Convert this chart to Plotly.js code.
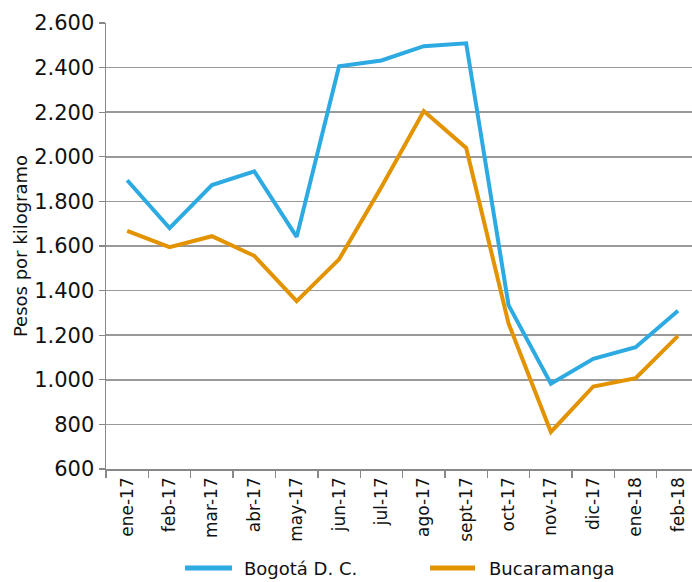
<!DOCTYPE html>
<html>
<head>
<meta charset="utf-8">
<script src="https://cdn.plot.ly/plotly-3.0.1.min.js"></script>
<style>html,body{margin:0;padding:0;background:#fff;}#chart{width:692px;height:582px;}</style>
</head>
<body>
<div id="chart"></div>
<script>
const months = ["ene-17","feb-17","mar-17","abr-17","may-17","jun-17","jul-17","ago-17","sept-17","oct-17","nov-17","dic-17","ene-18","feb-18"];
const bogota = [1895, 1680, 1873, 1935, 1641, 2406, 2432, 2496, 2509, 1335, 982, 1094, 1146, 1310];
const bucaramanga = [1668, 1595, 1644, 1556, 1353, 1540, 1865, 2205, 2040, 1253, 766, 970, 1007, 1197];
const yTicks = [600, 800, 1000, 1200, 1400, 1600, 1800, 2000, 2200, 2400, 2600];
const seriesNames = ["Bogotá D. C.", "Bucaramanga"];
const seriesColors = ["#2DAAE1", "#E39300"];

const font = "'DejaVu Sans', 'Noto Sans', sans-serif";
const traces = [
  {x: months, y: bogota, name: seriesNames[0], type: "scatter", mode: "lines",
   line: {color: seriesColors[0], width: 4}},
  {x: months, y: bucaramanga, name: seriesNames[1], type: "scatter", mode: "lines",
   line: {color: seriesColors[1], width: 4}}
];

// manual legend (paper coords)
const legY = -0.222;
const legItems = [
  {x0: 0.1348, x1: 0.215, tx: 0.2321},
  {x0: 0.5529, x1: 0.6297, tx: 0.6502}
];
const shapes = legItems.map((it, i) => ({
  type: "line", xref: "paper", yref: "paper", x0: it.x0, x1: it.x1, y0: legY, y1: legY,
  line: {color: seriesColors[i], width: 5}
}));
const annotations = legItems.map((it, i) => ({
  xref: "paper", yref: "paper", x: it.tx, y: legY, xanchor: "left", yanchor: "middle",
  text: seriesNames[i], showarrow: false, font: {size: 18, color: "#111"}
}));

const layout = {
  width: 692, height: 582,
  margin: {l: 106, r: 0, t: 23, b: 113},
  paper_bgcolor: "#fff", plot_bgcolor: "#fff",
  separators: ",.",
  font: {family: font, color: "#111", size: 16},
  showlegend: false,
  shapes: shapes,
  annotations: annotations,
  xaxis: {
    type: "category", range: [-0.5, 13.33], tickangle: -90,
    tickson: "boundaries", ticks: "outside", ticklen: 7, tickcolor: "#888", tickwidth: 1.3,
    showline: true, linecolor: "#888", linewidth: 1.5, showgrid: false,
    tickfont: {size: 17, color: "#111"}, fixedrange: true
  },
  yaxis: {
    range: [600, 2600], tickvals: yTicks, tickformat: ",d",
    ticks: "outside", ticklen: 6, tickcolor: "#888", tickwidth: 1.3,
    showline: true, linecolor: "#888", linewidth: 1.5,
    showgrid: true, gridcolor: "#999", gridwidth: 1.5, zeroline: false,
    tickfont: {size: 21, color: "#111"},
    title: {text: "Pesos por kilogramo", font: {size: 18, color: "#111"}, standoff: 2},
    fixedrange: true
  }
};
Plotly.newPlot("chart", traces, layout, {displayModeBar: false, staticPlot: true});
</script>
</body>
</html>
